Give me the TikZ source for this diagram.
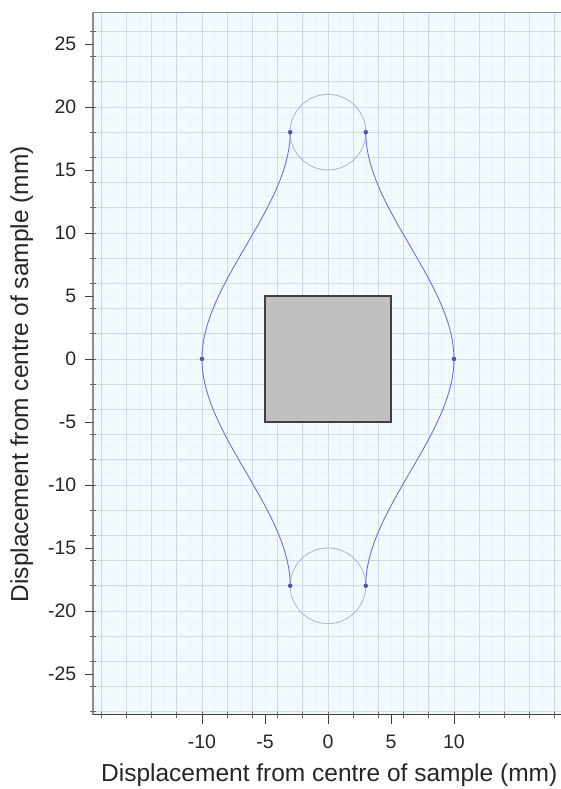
\documentclass[tikz,border=0pt]{standalone}
\usepackage{fontspec}
\setmainfont{Liberation Sans}
\usepackage{tikz}
\usetikzlibrary{calc}

\definecolor{plotbg}{HTML}{F2FAFD}
\definecolor{gridlo}{HTML}{EBF4F8}
\definecolor{gridhi}{HTML}{CCDDE6}
\definecolor{pathblue}{HTML}{6F72D6}
\definecolor{ringblue}{HTML}{A9B5DA}
\definecolor{dotblue}{HTML}{4E52B4}
\definecolor{samplegrey}{HTML}{C0C0C0}

\tikzset{
  ticklabel/.style={font=\fontsize{19.5}{22}\selectfont, text=black!85},
  axislabel/.style={font=\fontsize{24.5}{28}\selectfont, text=black!85},
  turnpt/.style={circle, fill=dotblue, inner sep=0pt, minimum size=4.5pt}
}

\begin{document}
\begin{tikzpicture}[x=12.6pt, y=12.6pt]
\useasboundingbox (-26.03,-34.13) rectangle (18.49,28.49);

% plot area and grid
\fill[plotbg] (-18.65,-28.25) rectangle (18.49,27.5);
\draw[gridlo, line width=0.4pt, step=1] (-18.65,-28.25) grid (18.49,27.5);
\draw[gridhi, line width=0.7pt, step=2] (-18.65,-28.25) grid (18.49,27.5);
\draw[black!45, line width=1.3pt] (-18.65,-28.25) -- (-18.65,27.5) -- (18.49,27.5);
\draw[black!75, line width=1.1pt] (-18.65,-28.25) -- (18.49,-28.25);

% ticks
\foreach \v in {-28,-26,...,26} \draw[black!60, line width=0.6pt] (-18.9,\v) -- (-18.4,\v);
\foreach \v in {-18,-16,...,18} \draw[black!60, line width=0.6pt] (\v,-28.5) -- (\v,-28.0);
\foreach \v in {-25,-20,...,25} \draw[black!75, line width=0.8pt] (-19.3,\v) -- (-18.65,\v);
\foreach \v in {-10,-5,...,10} \draw[black!75, line width=0.8pt] (\v,-28.25) -- (\v,-29.0);

% tick labels
\node[ticklabel, anchor=east] (y25) at (-19.7,25) {25};
\node[ticklabel, anchor=east] (y20) at (-19.7,20) {20};
\node[ticklabel, anchor=east] (y15) at (-19.7,15) {15};
\node[ticklabel, anchor=east] (y10) at (-19.7,10) {10};
\node[ticklabel, anchor=east] (y5) at (-19.7,5) {5};
\node[ticklabel, anchor=east] (y0) at (-19.7,0) {0};
\node[ticklabel, anchor=east] (ym5) at (-19.7,-5) {-5};
\node[ticklabel, anchor=east] (ym10) at (-19.7,-10) {-10};
\node[ticklabel, anchor=east] (ym15) at (-19.7,-15) {-15};
\node[ticklabel, anchor=east] (ym20) at (-19.7,-20) {-20};
\node[ticklabel, anchor=east] (ym25) at (-19.7,-25) {-25};

\node[ticklabel] (xm10) at (-10,-30.4) {-10};
\node[ticklabel] (xm5) at (-5,-30.4) {-5};
\node[ticklabel] (x0) at (0,-30.4) {0};
\node[ticklabel] (x5) at (5,-30.4) {5};
\node[ticklabel] (x10) at (10,-30.4) {10};

\node[axislabel] (xlab) at (0.1,-33.0) {Displacement from centre of sample (mm)};
\node[axislabel, rotate=90] (ylab) at (-24.3,-1.2) {Displacement from centre of sample (mm)};

% sample
\draw[black!75, fill=samplegrey, line width=1.2pt] (-5,-5) rectangle (5,5);

% rings
\draw[ringblue, line width=0.8pt] (0,18) circle (3);
\draw[ringblue, line width=0.8pt] (0,-18) circle (3);

% path
\coordinate (tl) at (-3,18);
\coordinate (tr) at (3,18);
\coordinate (bl) at (-3,-18);
\coordinate (br) at (3,-18);
\coordinate (ml) at (-10,0);
\coordinate (mr) at (10,0);

\draw[pathblue, line width=0.9pt]
  (tl) .. controls ($(tl)+(0,-6)$) and ($(ml)+(0,6)$) .. (ml)
       .. controls ($(ml)+(0,-6)$) and ($(bl)+(0,6)$) .. (bl);
\draw[pathblue, line width=0.9pt]
  (tr) .. controls ($(tr)+(0,-6)$) and ($(mr)+(0,6)$) .. (mr)
       .. controls ($(mr)+(0,-6)$) and ($(br)+(0,6)$) .. (br);

\node[turnpt] (ptl) at (tl) {};
\node[turnpt] (ptr) at (tr) {};
\node[turnpt] (pbl) at (bl) {};
\node[turnpt] (pbr) at (br) {};
\node[turnpt] (pml) at (ml) {};
\node[turnpt] (pmr) at (mr) {};
\end{tikzpicture}
\end{document}
